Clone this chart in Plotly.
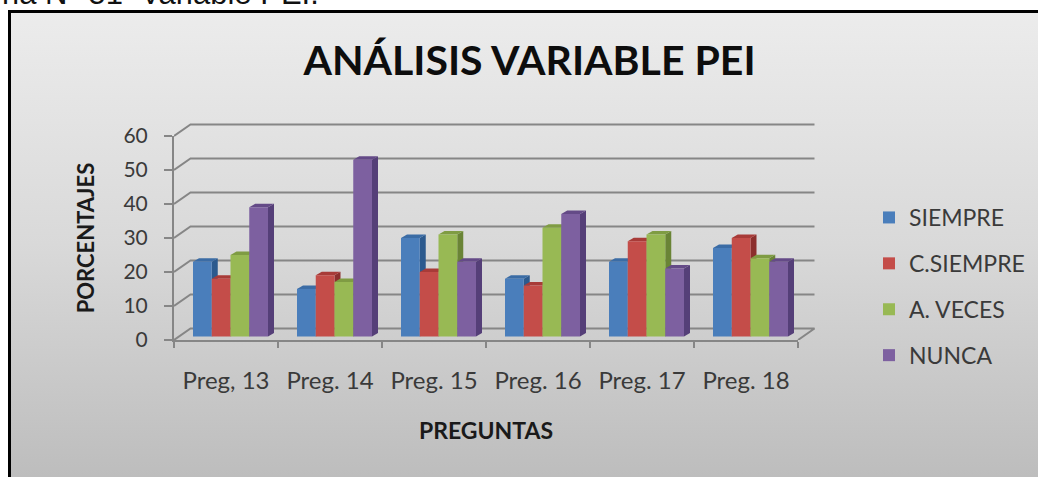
import base64
import plotly.graph_objects as go

W, H = 1038, 477
categories = ["Preg, 13", "Preg. 14", "Preg. 15", "Preg. 16", "Preg. 17", "Preg. 18"]
siempre = [22, 14, 29, 17, 22, 26]
c_siempre = [17, 18, 19, 15, 28, 29]
a_veces = [24, 16, 30, 32, 30, 23]
nunca = [38, 52, 22, 36, 20, 22]
series_names = ["SIEMPRE", "C.SIEMPRE", "A. VECES", "NUNCA"]
series_values = [siempre, c_siempre, a_veces, nunca]
front_colors = ["#4a7ebb", "#c44d49", "#98b954", "#7d60a0"]
top_colors = ["#3b6ca5", "#a83b38", "#7f9c43", "#644a87"]
side_colors = ["#2c5a8e", "#8c2f2d", "#6a8436", "#553f78"]
y_ticks = [0, 10, 20, 30, 40, 50, 60]

# front plane in pixels
PX0, PX1, PY0, PY1 = 174, 798, 340, 136
px_x = (PX1 - PX0) / 6
px_y = (PY0 - PY1) / 60
ux = lambda p: p / px_x
uy = lambda p: p / px_y

# the back plane pokes out of the front plane: a larger base subplot holds it
EXT_X, EXT_Y = 24, 24
wall_dx, wall_dy = ux(16.5), uy(11.5)
depth_dx, depth_dy = ux(6), uy(3.5)
lift = uy(3.5)
bar_w = ux(18.75)
start = ux(-33)
AXIS = "#868686"

fig = go.Figure()

line = dict(color=AXIS, width=2)
for v in y_ticks:
    fig.add_trace(go.Scatter(
        x=[-0.5, -0.5 + wall_dx, 5.5 + wall_dx] + ([5.5] if v == 0 else []),
        y=[v, v + wall_dy, v + wall_dy] + ([0] if v == 0 else []),
        mode="lines", line=line, xaxis="x", yaxis="y",
        showlegend=False, hoverinfo="skip"))

for s, vals in enumerate(series_values):
    for i, v in enumerate(vals):
        x0 = i + start + s * bar_w
        x1 = x0 + bar_w
        top = v + lift
        fig.add_trace(go.Scatter(
            x=[x1, x1 + depth_dx, x1 + depth_dx, x1, x1],
            y=[lift, lift + depth_dy, top + depth_dy, top, lift],
            mode="lines", line=dict(width=0), fill="toself", fillcolor=side_colors[s],
            xaxis="x", yaxis="y", showlegend=False, hoverinfo="skip"))
        fig.add_trace(go.Scatter(
            x=[x0, x0 + depth_dx, x1 + depth_dx, x1, x0],
            y=[top, top + depth_dy, top + depth_dy, top, top],
            mode="lines", line=dict(width=0), fill="toself", fillcolor=top_colors[s],
            xaxis="x", yaxis="y", showlegend=False, hoverinfo="skip"))

for s, (name, vals) in enumerate(zip(series_names, series_values)):
    fig.add_trace(go.Bar(
        x=categories, y=vals, name=name, base=lift, width=bar_w,
        offset=start + s * bar_w, marker=dict(color=front_colors[s], line=dict(width=0)),
        xaxis="x2", yaxis="y2", legendgroup=name))

svg = ('<svg xmlns="http://www.w3.org/2000/svg" width="1029" height="466">'
       '<defs><linearGradient id="g" x1="0" y1="0" x2="0" y2="1">'
       '<stop offset="0" stop-color="#ececec"/><stop offset="0.5" stop-color="#d9d9d9"/>'
       '<stop offset="1" stop-color="#bdbdbd"/></linearGradient></defs>'
       '<rect width="1029" height="466" fill="url(#g)"/></svg>')
src = "data:image/svg+xml;base64," + base64.b64encode(svg.encode()).decode()

FONT = "Lato"
TXT = "#3a3a3a"

fig.update_layout(
    width=W, height=H, margin=dict(l=0, r=0, t=0, b=0),
    paper_bgcolor="white", plot_bgcolor="rgba(0,0,0,0)",
    barmode="overlay", font=dict(family=FONT, color=TXT),
    title=dict(text="ANÁLISIS VARIABLE PEI", x=529.5 / W, xanchor="center", xref="paper",
               y=1 - 61 / H, yanchor="middle", yref="paper",
               font=dict(family=FONT, size=41, weight=700, color="#0d0d0d")),
    xaxis=dict(domain=[PX0 / W, (PX1 + EXT_X) / W], range=[-0.5, 5.5 + ux(EXT_X)],
               visible=False, fixedrange=True),
    yaxis=dict(domain=[(H - PY0) / H, (H - PY1 + EXT_Y) / H], range=[0, 60 + uy(EXT_Y)],
               visible=False, fixedrange=True),
    xaxis2=dict(domain=[PX0 / W, PX1 / W], anchor="y2", type="category",
                categoryorder="array", categoryarray=categories,
                range=[-0.5, 5.5], tickson="boundaries", ticks="outside", ticklen=6, tickwidth=2,
                tickcolor=AXIS, showline=True, linecolor=AXIS, linewidth=2, showgrid=False,
                tickfont=dict(size=24, color=TXT), ticklabelstandoff=18,
                title=dict(text="PREGUNTAS", standoff=30,
                           font=dict(size=23, weight=700, color="#1a1a1a")),
                automargin=False, fixedrange=True),
    yaxis2=dict(domain=[(H - PY0) / H, (H - PY1) / H], anchor="x2", range=[0, 60],
                tickvals=y_ticks, ticks="outside", ticklen=8,
                tickwidth=2, tickcolor=AXIS, showline=True, linecolor=AXIS, linewidth=2,
                showgrid=False, zeroline=False, tickfont=dict(size=21, color=TXT),
                ticklabelstandoff=12,
                title=dict(text="PORCENTAJES", standoff=23,
                           font=dict(size=22, weight=700, color="#1a1a1a")),
                automargin=False, fixedrange=True),
    legend=dict(x=869 / W, xanchor="left", y=1 - 196 / H, yanchor="top",
                bgcolor="rgba(0,0,0,0)", font=dict(size=23, color=TXT),
                tracegroupgap=13, itemclick=False, itemdoubleclick=False),
    images=[dict(source=src, xref="paper", yref="paper", x=9 / W, y=1 - 11 / H,
                 sizex=1029 / W, sizey=466 / H, xanchor="left", yanchor="top",
                 sizing="stretch", layer="below")],
    shapes=[
        dict(type="line", xref="paper", yref="paper", x0=9.5 / W, x1=9.5 / W,
             y0=0, y1=1 - 10 / H, line=dict(color="black", width=3)),
        dict(type="line", xref="paper", yref="paper", x0=8 / W, x1=1,
             y0=1 - 11.5 / H, y1=1 - 11.5 / H, line=dict(color="black", width=3)),
    ],
    annotations=[dict(text="ria N° 51  Variable PEI.", xref="paper", yref="paper",
                      x=0, xanchor="left", y=1 + 7 / H, yanchor="middle", showarrow=False,
                      font=dict(family="Liberation Sans", size=31, color="#111111"))],
)

fig.write_html("out.html", config=dict(displayModeBar=False),
               post_script="document.body.style.margin='0';document.body.style.overflow='hidden';")
